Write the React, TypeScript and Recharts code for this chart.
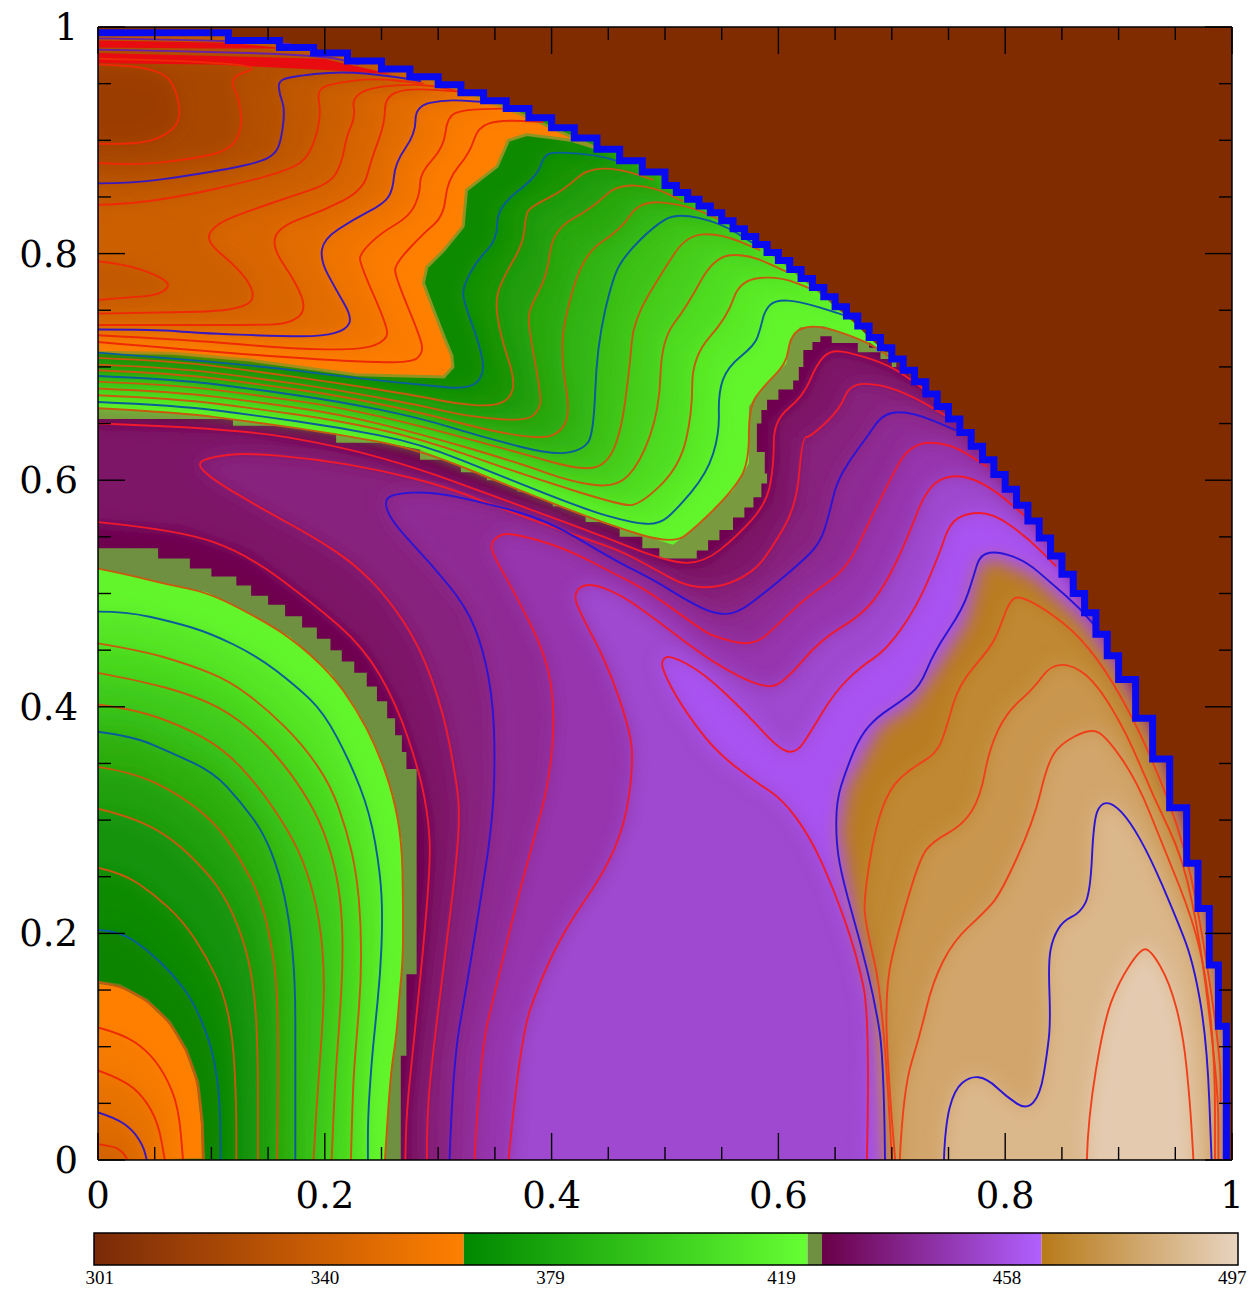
import { ScatterChart, Scatter, XAxis, YAxis } from "recharts";

type Pair = number[];

// rim of the disk, stepped as on the original grid
const rim: Pair[] = [[0,.995],[.115,.988],[.16,.982],[.19,.977],[.22,.97],[.25,.963],[.275,.956],[.3,.949],[.32,.942],[.34,.935],[.36,.928],[.38,.92],[.4,.911],[.42,.902],[.44,.892],[.46,.882],[.48,.872],[.5,.86],[.51,.854],[.52,.848],[.53,.842],[.54,.836],[.55,.829],[.56,.822],[.57,.815],[.58,.808],[.59,.801],[.6,.794],[.61,.786],[.62,.778],[.63,.77],[.64,.762],[.65,.753],[.66,.745],[.67,.736],[.68,.726],[.69,.717],[.7,.707],[.71,.697],[.72,.687],[.73,.676],[.74,.665],[.75,.654],[.76,.642],[.77,.63],[.78,.618],[.79,.605],[.8,.592],[.81,.578],[.82,.564],[.83,.549],[.84,.533],[.85,.517],[.86,.5],[.87,.483],[.88,.464],[.89,.445],[.9,.424],[.915,.39],[.93,.354],[.945,.311],[.96,.262],[.97,.222],[.98,.172],[.988,.118],[.995,0]];

// top left: orange bands
const t1: Pair[] = [[0,.897],[.037,.896],[.061,.905],[.073,.918],[.07,.941],[.061,.958],[.037,.965],[0,.967]];
const t2: Pair[] = [[0,.88],[.031,.878],[.081,.883],[.116,.891],[.127,.909],[.125,.936],[.115,.956],[.146,.965],[.081,.97],[0,.972]];
const t3: Pair[] = [[0,.862],[.031,.862],[.081,.869],[.116,.875],[.143,.881],[.155,.887],[.161,.897],[.165,.927],[.16,.941],[.159,.952],[.169,.956],[.213,.961],[.257,.957],[.285,.952]];
const t4: Pair[] = [[0,.843],[.031,.844],[.081,.852],[.125,.862],[.169,.874],[.187,.886],[.197,.921],[.193,.944],[.205,.95],[.243,.955],[.287,.95]];
const oval: Pair[] = [[0,.793],[.022,.791],[.052,.781],[.065,.772],[.052,.763],[.022,.761],[0,.759]];
const t5: Pair[] = [[0,.747],[.052,.748],[.102,.749],[.125,.752],[.138,.759],[.134,.774],[.119,.791],[.094,.812],[.105,.827],[.134,.838],[.169,.85],[.205,.862],[.215,.88],[.219,.903],[.227,.921],[.224,.937],[.24,.947],[.287,.95],[.319,.943]];
const t6: Pair[] = [[0,.737],[.081,.737],[.14,.737],[.169,.738],[.184,.75],[.175,.774],[.153,.806],[.16,.824],[.199,.838],[.234,.856],[.241,.883],[.253,.915],[.253,.938],[.272,.946],[.319,.943]];
const t7: Pair[] = [[0,.733],[.052,.733],[.087,.73],[.16,.727],[.199,.727],[.219,.733],[.224,.744],[.21,.768],[.196,.794],[.199,.813],[.225,.83],[.252,.844],[.26,.856],[.262,.88],[.28,.906],[.28,.93],[.305,.936],[.337,.934]];
const t8: Pair[] = [[0,.728],[.081,.724],[.169,.716],[.234,.715],[.255,.724],[.255,.736],[.231,.791],[.231,.8],[.249,.818],[.275,.833],[.284,.853],[.284,.871],[.305,.894],[.308,.921],[.322,.927],[.357,.928]];
const t9: Pair[] = [[0,.722],[.081,.715],[.199,.706],[.275,.703],[.287,.712],[.284,.727],[.262,.78],[.262,.791],[.287,.818],[.305,.833],[.308,.865],[.328,.889],[.335,.912],[.355,.918],[.393,.916]];
const t10: Pair[] = [[0,.713],[.066,.712],[.134,.706],[.228,.693],[.305,.691],[.313,.7],[.312,.71],[.305,.727],[.296,.75],[.287,.774],[.29,.788],[.305,.803],[.322,.824],[.325,.856],[.352,.877],[.362,.9],[.378,.905],[.417,.9],[.44,.893]];

// top: green bands
const g1: Pair[] = [[0,.7126],[.125,.703],[.228,.69],[.287,.684],[.328,.68],[.341,.694],[.337,.718],[.322,.759],[.322,.771],[.334,.794],[.352,.812],[.352,.841],[.387,.868],[.393,.886],[.402,.89],[.44,.887],[.46,.881]];
const g2: Pair[] = [[0,.708],[.07,.705],[.14,.696],[.21,.686],[.284,.674],[.313,.668],[.346,.665],[.363,.671],[.368,.688],[.355,.727],[.35,.759],[.358,.78],[.375,.809],[.377,.833],[.381,.841],[.411,.856],[.431,.875],[.46,.875],[.49,.865]];
const g3: Pair[] = [[0,.702],[.07,.699],[.14,.69],[.21,.68],[.284,.666],[.328,.656],[.378,.652],[.389,.662],[.391,.674],[.379,.738],[.381,.753],[.396,.78],[.401,.821],[.437,.841],[.457,.861],[.49,.859],[.516,.846]];
const g4: Pair[] = [[0,.697],[.07,.694],[.14,.685],[.21,.675],[.284,.66],[.343,.644],[.393,.636],[.41,.644],[.416,.662],[.409,.703],[.41,.738],[.428,.8],[.461,.821],[.478,.847],[.519,.843],[.548,.83]];
const g5: Pair[] = [[0,.692],[.07,.689],[.14,.68],[.21,.67],[.284,.655],[.343,.637],[.402,.622],[.428,.627],[.437,.641],[.44,.718],[.454,.78],[.466,.8],[.49,.824],[.51,.836],[.549,.827],[.578,.809]];
const g6: Pair[] = [[0,.687],[.07,.684],[.14,.675],[.21,.665],[.284,.648],[.372,.624],[.425,.609],[.448,.613],[.461,.641],[.469,.7],[.472,.741],[.499,.786],[.519,.816],[.548,.818],[.584,.803]];
const g7: Pair[] = [[0,.681],[.07,.678],[.14,.669],[.21,.659],[.284,.641],[.372,.615],[.416,.599],[.457,.593],[.478,.615],[.495,.662],[.497,.724],[.519,.753],[.543,.797],[.572,.8],[.607,.784]];
const g8: Pair[] = [[0,.675],[.07,.672],[.14,.663],[.21,.653],[.284,.637],[.372,.606],[.46,.578],[.478,.578],[.513,.612],[.524,.659],[.524,.709],[.555,.744],[.566,.777],[.601,.78],[.631,.768]];
const g9: Pair[] = [[0,.669],[.07,.666],[.14,.657],[.21,.647],[.284,.6325],[.357,.603],[.43,.574],[.472,.562],[.495,.561],[.51,.574],[.537,.606],[.548,.641],[.547,.677],[.555,.7],[.579,.719],[.584,.733],[.588,.75],[.597,.759],[.619,.758],[.666,.743]];
const g10: Pair[] = [[0,.6635],[.07,.66],[.14,.651],[.21,.641],[.284,.627],[.372,.591],[.446,.562],[.507,.543],[.528,.559],[.56,.591],[.574,.615],[.574,.665],[.587,.683],[.607,.703],[.61,.724],[.619,.735],[.64,.736],[.681,.721],[.702,.706]];
const topStair: Pair[] = [[0,.654],[.119,.648],[.21,.633],[.284,.618],[.32,.607],[.343,.6],[.37,.59],[.401,.577],[.43,.563],[.46,.55],[.48,.54],[.495,.531],[.528,.531],[.528,.538],[.538,.547],[.548,.556],[.56,.567],[.57,.576],[.578,.585],[.585,.597],[.59,.606],[.588,.625],[.581,.65],[.585,.662],[.59,.671],[.6,.68],[.613,.688],[.618,.7],[.622,.715],[.63,.722],[.637,.727],[.647,.721],[.67,.713],[.704,.7]];

// lower left: rings round the origin
const ringStair: Pair[] = [[0,.54],[.053,.531],[.081,.522],[.1,.515],[.122,.507],[.135,.498],[.15,.49],[.165,.48],[.18,.47],[.193,.46],[.205,.45],[.215,.44],[.226,.43],[.237,.418],[.246,.405],[.255,.39],[.262,.375],[.268,.36],[.272,.345],[.281,.312],[.281,.164],[.272,.164],[.272,.092],[.267,.092],[.267,0]];
const r1: Pair[] = [[0,.522],[.025,.517],[.061,.508],[.096,.501],[.131,.484],[.169,.462],[.205,.43],[.228,.398],[.246,.363],[.26,.324],[.268,.281],[.269,.228],[.269,.179],[.266,.147],[.263,.108],[.258,.076],[.253,0]];
const r2: Pair[] = [[0,.484],[.025,.484],[.066,.475],[.099,.465],[.14,.445],[.175,.418],[.199,.395],[.222,.352],[.24,.306],[.249,.253],[.251,.214],[.249,.164],[.244,.115],[.241,.083],[.238,.037],[.238,0]];
const r3: Pair[] = [[0,.456],[.037,.45],[.081,.437],[.116,.423],[.149,.398],[.181,.366],[.205,.331],[.219,.292],[.228,.253],[.232,.207],[.232,.157],[.228,.108],[.225,.069],[.223,0]];
const r4: Pair[] = [[0,.43],[.037,.423],[.081,.411],[.116,.395],[.149,.367],[.175,.335],[.196,.299],[.209,.26],[.215,.221],[.216,.175],[.213,.122],[.209,.069],[.206,0]];
const r5: Pair[] = [[0,.402],[.031,.398],[.072,.384],[.111,.363],[.143,.328],[.169,.289],[.184,.257],[.196,.211],[.2,.157],[.197,.104],[.193,.051],[.19,0]];
const r6: Pair[] = [[0,.378],[.031,.374],[.066,.359],[.102,.342],[.125,.317],[.146,.289],[.16,.253],[.169,.211],[.174,.157],[.174,.086],[.174,0]];
const r7: Pair[] = [[0,.347],[.031,.342],[.069,.324],[.102,.299],[.125,.267],[.143,.232],[.152,.196],[.158,.154],[.159,.086],[.158,0]];
const r8: Pair[] = [[0,.31],[.025,.304],[.058,.289],[.087,.264],[.111,.235],[.128,.196],[.137,.157],[.141,.104],[.141,0]];
const r9: Pair[] = [[0,.258],[.022,.253],[.049,.235],[.075,.211],[.096,.179],[.111,.147],[.119,.108],[.122,.051],[.122,0]];
const r10: Pair[] = [[0,.203],[.019,.202],[.043,.186],[.066,.164],[.084,.14],[.099,.104],[.106,.069],[.108,.033],[.108,0]];
const r11: Pair[] = [[0,.157],[.019,.154],[.043,.141],[.063,.122],[.078,.097],[.088,.069],[.092,.033],[.093,0]];
const r12: Pair[] = [[0,.117],[.022,.111],[.043,.097],[.059,.076],[.071,.047],[.075,0]];
const r13: Pair[] = [[0,.079],[.022,.071],[.04,.056],[.053,.033],[.059,0]];
const r14: Pair[] = [[0,.042],[.016,.037],[.031,.026],[.04,.012],[.043,0]];
const r15: Pair[] = [[0,.014],[.014,.012],[.022,.007],[.026,0]];

// middle: purple bands
const pa: Pair[] = [[0,.65],[.119,.646],[.213,.63],[.284,.61],[.343,.588],[.431,.556],[.504,.527],[.534,.527],[.563,.55],[.59,.58],[.596,.615],[.596,.653],[.622,.674],[.634,.703],[.646,.715],[.666,.712],[.696,.702],[.719,.688],[.743,.668],[.78,.625]];
const p1: Pair[] = [[0,.563],[.072,.556],[.131,.535],[.19,.491],[.234,.453],[.263,.403],[.284,.341],[.292,.297],[.293,.262],[.287,.188],[.278,.1],[.272,.041],[.271,0]];
const p2: Pair[] = [[.29,0],[.29,.041],[.296,.1],[.307,.188],[.316,.262],[.319,.306],[.316,.335],[.305,.394],[.284,.453],[.255,.497],[.225,.527],[.19,.55],[.146,.574],[.102,.6],[.086,.615],[.102,.621],[.131,.624],[.19,.619],[.249,.609],[.308,.594],[.366,.571],[.425,.55],[.46,.538],[.49,.522],[.519,.506],[.549,.505],[.578,.519],[.593,.538],[.616,.577],[.621,.638],[.628,.638],[.654,.662],[.663,.685],[.689,.685],[.719,.674],[.754,.653]];
const p3: Pair[] = [[.31,0],[.313,.085],[.325,.153],[.337,.227],[.346,.285],[.35,.335],[.349,.4],[.34,.45],[.325,.488],[.293,.527],[.26,.562],[.252,.581],[.26,.588],[.293,.59],[.337,.581],[.396,.565],[.454,.53],[.49,.512],[.519,.494],[.543,.482],[.563,.482],[.587,.5],[.616,.524],[.637,.544],[.645,.571],[.651,.597],[.663,.618],[.678,.638],[.693,.66],[.719,.66],[.757,.644]];
const p4: Pair[] = [[.332,0],[.337,.094],[.351,.153],[.369,.227],[.384,.282],[.398,.335],[.403,.394],[.396,.444],[.366,.503],[.349,.533],[.346,.544],[.354,.552],[.366,.553],[.41,.541],[.46,.515],[.484,.503],[.531,.469],[.543,.462],[.578,.453],[.601,.474],[.625,.497],[.66,.521],[.678,.559],[.695,.594],[.716,.633],[.751,.633],[.784,.612]];
const p5: Pair[] = [[.362,0],[.372,.106],[.39,.159],[.413,.206],[.446,.253],[.465,.297],[.472,.35],[.469,.38],[.449,.438],[.425,.483],[.419,.5],[.431,.51],[.46,.5],[.496,.474],[.543,.438],[.59,.415],[.607,.424],[.637,.459],[.675,.482],[.695,.509],[.713,.547],[.731,.594],[.754,.606],[.784,.597],[.825,.562]];
const p6: Pair[] = [[.678,0],[.681,.124],[.669,.182],[.648,.241],[.628,.285],[.604,.318],[.578,.335],[.543,.362],[.513,.403],[.498,.432],[.497,.441],[.504,.446],[.534,.43],[.572,.394],[.601,.362],[.616,.359],[.628,.377],[.649,.412],[.672,.435],[.695,.45],[.722,.488],[.742,.535],[.751,.562],[.766,.571],[.789,.571],[.819,.55],[.845,.524]];

// lower right: tan bands
const tanBlue: Pair[] = [[.694,0],[.693,.09],[.685,.14],[.672,.193],[.657,.246],[.651,.278],[.651,.317],[.66,.345],[.672,.374],[.687,.391],[.707,.404],[.725,.418],[.737,.448],[.763,.487],[.772,.515],[.778,.535],[.795,.537],[.819,.528],[.842,.508],[.866,.487],[.887,.462]];
const tanEdge: Pair[] = [[.698,0],[.693,.09],[.687,.14],[.674,.193],[.662,.242],[.654,.289],[.66,.328],[.675,.356],[.69,.384],[.716,.4],[.737,.43],[.766,.476],[.778,.526],[.79,.531],[.825,.515],[.866,.476],[.895,.434],[.931,.37],[.96,.271],[.972,.221],[.984,.164],[.992,.115],[.992,0]];
const tan1: Pair[] = [[.7,0],[.693,.14],[.676,.211],[.676,.235],[.685,.292],[.698,.328],[.716,.345],[.74,.359],[.748,.381],[.759,.42],[.787,.452],[.795,.469],[.804,.494],[.813,.498],[.837,.485],[.866,.462],[.895,.423],[.928,.359],[.96,.274],[.978,.175],[.99,.087],[.99,.051]];
const tan2: Pair[] = [[.703,0],[.697,.069],[.694,.154],[.707,.207],[.725,.267],[.736,.281],[.763,.296],[.778,.32],[.786,.363],[.801,.395],[.825,.416],[.84,.437],[.86,.437],[.881,.42],[.907,.377],[.931,.32],[.957,.266],[.972,.192],[.981,.121],[.988,.054],[.988,0]];
const tan3: Pair[] = [[.707,0],[.71,.062],[.725,.111],[.736,.157],[.754,.193],[.781,.218],[.796,.235],[.825,.299],[.837,.349],[.848,.367],[.875,.381],[.889,.374],[.916,.335],[.939,.278],[.966,.211],[.978,.157],[.985,.086],[.985,0]];
const tan4: Pair[] = [[.746,0],[.747,.03],[.755,.062],[.769,.074],[.784,.072],[.801,.056],[.819,.044],[.831,.058],[.837,.094],[.84,.122],[.838,.175],[.842,.196],[.851,.211],[.866,.218],[.875,.235],[.878,.299],[.884,.315],[.895,.315],[.91,.299],[.928,.267],[.949,.218],[.966,.175],[.978,.104],[.982,0]];
const tan5: Pair[] = [[.872,0],[.873,.037],[.887,.122],[.9,.157],[.919,.186],[.928,.186],[.945,.157],[.957,.111],[.963,.051],[.966,0]];

// thin strips hugging the rim at the top
const topStrip1: Pair[] = [[0,.988],[.115,.986],[.166,.981],[.1,.981],[0,.982]];
const topStrip2: Pair[] = [[0,.977],[.199,.972],[.26,.958],[.2,.962],[.1,.967],[0,.968]];
const topLine1: Pair[] = [[0,.99],[.115,.988],[.17,.985]];
const topLine2: Pair[] = [[0,.98],[.066,.979],[.199,.975],[.23,.967]];
const rightSliver: Pair[] = [[.996,0],[1,0],[1,.115],[.996,.115]];
const square: Pair[] = [[0,0],[1,0],[1,1],[0,1]];

const axisTicks = [0, .05, .1, .15, .2, .25, .3, .35, .4, .45, .5, .55, .6, .65, .7, .75, .8, .85, .9, .95, 1];
const labelTicks = [0, .2, .4, .6, .8, 1];

const barTicks = [301, 340, 379, 419, 458, 497];
const barFrom = [300, 364, 423.5, 426, 464];
const barTo = [364, 423.5, 426, 464, 498];
const barStart = ["#7a2a08", "#008800", "#6f9040", "#6a0048", "#b87a18"];
const barEnd = ["#ff8000", "#66ff33", "#6f9040", "#b060ff", "#e8d4c0"];

const RED = "#f01a2c";
const RED_GREEN = "#c8590f";
const RED_ORANGE = "#ee2a06";
const RED_TAN = "#f0401a";
const BLUE = "#2a14d8";
const BLUE_GREEN = "#0a5c9a";
const BLUE_ORANGE = "#3a18c0";

const last = (c: Pair[]) => c[c.length - 1];
const upRim = (c: Pair[]) => [...c, ...rim.filter(p => p[0] < last(c)[0]).reverse()];
const downRim = (c: Pair[]) => [...c, ...rim.filter(p => p[0] > last(c)[0])];
const toOrigin = (c: Pair[]) => [...c, [0, 0]];
// soft fills run past the plot edge so the blur does not fade there; the clip cuts them off
const pastEdge = (c: Pair[]) => c.map(([x, y]) => [x === 0 ? -.03 : x, y === 0 ? -.03 : y]);

const purpleBase: Pair[] = [...p1, [.995, 0], ...rim.filter(p => p[0] > last(pa)[0]).reverse(), ...[...pa].reverse()];
const outside: Pair[] = [...rim, [1, 0], [1, 1], [0, 1]];

interface Fill { pts: Pair[]; color: string; soft?: boolean; step?: boolean; edge?: string }

const fills: Fill[] = [
  { pts: square, color: "#802c00" },
  { pts: rim.concat([[0, 0]]), color: "#6e004e" },
  { pts: purpleBase, color: "#7e1268", soft: true },
  { pts: downRim(p2), color: "#87207e", soft: true },
  { pts: downRim(p3), color: "#8f2b94", soft: true },
  { pts: downRim(p4), color: "#9636ae", soft: true },
  { pts: downRim(p5), color: "#9e48cf", soft: true },
  { pts: downRim(p6), color: "#a952f2", soft: true },
  { pts: tanEdge, color: "#b97c20", soft: true },
  { pts: tan1, color: "#c08832", soft: true },
  { pts: tan2, color: "#c99650", soft: true },
  { pts: tan3, color: "#d2a56c", soft: true },
  { pts: tan4, color: "#dbb78c", soft: true },
  { pts: tan5, color: "#e4cbb0", soft: true },
  { pts: upRim(topStair), color: "#7a9a40", step: true },
  { pts: upRim(g10), color: "#62f52c" },
  { pts: upRim(g9), color: "#5aeb28", soft: true },
  { pts: upRim(g8), color: "#50dd22", soft: true },
  { pts: upRim(g7), color: "#46cf1c", soft: true },
  { pts: upRim(g6), color: "#3cc217", soft: true },
  { pts: upRim(g5), color: "#33b512", soft: true },
  { pts: upRim(g4), color: "#2aa90d", soft: true },
  { pts: upRim(g3), color: "#209d08", soft: true },
  { pts: upRim(g2), color: "#159204", soft: true },
  { pts: upRim(g1), color: "#0a8a00", soft: true },
  { pts: upRim(t10), color: "#ff8000", edge: "#8f9422" },
  { pts: upRim(t9), color: "#fa7c00", soft: true },
  { pts: upRim(t8), color: "#f07400", soft: true },
  { pts: upRim(t7), color: "#e26c00", soft: true },
  { pts: upRim(t6), color: "#d76500", soft: true },
  { pts: upRim(t5), color: "#cc5f00", soft: true },
  { pts: oval, color: "#c25900", soft: true },
  { pts: upRim(t4), color: "#c05800", soft: true },
  { pts: upRim(t3), color: "#b44f00", soft: true },
  { pts: upRim(t2), color: "#a84600", soft: true },
  { pts: upRim(t1), color: "#9c3e00", soft: true },
  { pts: topStrip1, color: "#e80c10" },
  { pts: topStrip2, color: "#e80c10" },
  { pts: toOrigin(ringStair), color: "#6f9040", step: true },
  { pts: toOrigin(r1), color: "#62f52c" },
  { pts: toOrigin(r2), color: "#56e626", soft: true },
  { pts: toOrigin(r3), color: "#4ad81f", soft: true },
  { pts: toOrigin(r4), color: "#40cb1a", soft: true },
  { pts: toOrigin(r5), color: "#36bd15", soft: true },
  { pts: toOrigin(r6), color: "#2dae10", soft: true },
  { pts: toOrigin(r7), color: "#22a00b", soft: true },
  { pts: toOrigin(r8), color: "#189307", soft: true },
  { pts: toOrigin(r9), color: "#0e8a03", soft: true },
  { pts: toOrigin(r10), color: "#078400", soft: true },
  { pts: toOrigin(r11), color: "#ff8000", edge: "#6f7a14" },
  { pts: toOrigin(r12), color: "#f57a00", soft: true },
  { pts: toOrigin(r13), color: "#e87200", soft: true },
  { pts: toOrigin(r14), color: "#dd6a00", soft: true },
  { pts: toOrigin(r15), color: "#d26200", soft: true },
  { pts: rightSliver, color: "#8a3ad0" },
  { pts: outside, color: "#802c00", step: true },
];

const lines: [Pair[], string][] = [
  [pa, RED], [p1, RED], [p2, RED], [p3, BLUE], [p4, RED], [p5, RED], [p6, RED],
  [tanBlue, BLUE], [tan1, RED_TAN], [tan2, RED_TAN], [tan3, RED_TAN], [tan4, BLUE], [tan5, RED_TAN],
  [g1, BLUE_GREEN], [g2, RED_GREEN], [g3, RED_GREEN], [g4, RED_GREEN], [g5, BLUE_GREEN], [g6, RED_GREEN], [g7, RED_GREEN], [g8, RED_GREEN], [g9, BLUE_GREEN], [g10, RED_GREEN],
  [t1, RED_ORANGE], [t2, RED_ORANGE], [t3, BLUE_ORANGE], [t4, RED_ORANGE], [oval, RED_ORANGE], [t5, RED_ORANGE], [t6, RED_ORANGE], [t7, BLUE_ORANGE], [t8, RED_ORANGE], [t9, RED_ORANGE],
  [topLine1, "#6a20a8"], [topLine2, "#6a20a8"],
  [r1, RED_GREEN], [r2, BLUE_GREEN], [r3, RED_GREEN], [r4, RED_GREEN], [r5, RED_GREEN], [r6, BLUE_GREEN], [r7, RED_GREEN], [r8, RED_GREEN], [r9, RED_GREEN], [r10, BLUE_GREEN], [r11, RED_GREEN],
  [r12, RED_ORANGE], [r13, RED_ORANGE], [r14, BLUE_ORANGE], [r15, RED_ORANGE],
];

type Pt = { x: number; y: number };

const toData = (c: Pair[]) => c.map(([x, y]) => ({ x, y }));
const noDot = () => <g />;

const straight = (p: Pt[]) => "M" + p.map(q => `${q.x} ${q.y}`).join("L") + "Z";
const stepped = (p: Pt[]) => `M${p[0].x} ${p[0].y}` + p.slice(1).map(q => `H${q.x}V${q.y}`).join("") + "Z";
// rounds the corners by running through the midpoints
const smooth = (p: Pt[]) => {
  let d = `M${p[0].x} ${p[0].y}`;
  for (let i = 1; i < p.length - 1; i++) {
    const mx = (p[i].x + p[i + 1].x) / 2;
    const my = (p[i].y + p[i + 1].y) / 2;
    d += `Q${p[i].x} ${p[i].y} ${mx} ${my}`;
  }
  const e = p[p.length - 1];
  return d + `L${e.x} ${e.y}`;
};

function tickMark(side: string, labelled: boolean) {
  return (props: any) => {
    const { x, y, payload } = props;
    const v: number = payload.value;
    const major = labelTicks.some(t => Math.abs(t - v) < 1e-6);
    const len = major ? 27 : 13;
    const end = {
      bottom: [x, y - len],
      top: [x, y + len],
      left: [x + len, y],
      right: [x - len, y],
    }[side] as number[];
    return (
      <g>
        <line x1={x} y1={y} x2={end[0]} y2={end[1]} stroke="#000" strokeWidth={1.4} />
        {labelled && major && side === "bottom" && (
          <text x={x} y={y + 48} textAnchor="middle" fontFamily="DejaVu Serif" fontSize={37} fill="#000">{`${v}`}</text>
        )}
        {labelled && major && side === "left" && (
          <text x={x - 20} y={y + 13} textAnchor="end" fontFamily="DejaVu Serif" fontSize={37} fill="#000">{`${v}`}</text>
        )}
      </g>
    );
  };
}

const barTick = (props: any) => (
  <text x={props.x} y={props.y + 19} textAnchor="middle" fontFamily="Liberation Serif" fontSize={19} fill="#000">{props.payload.value}</text>
);

export default function App() {
  return (
    <div style={{ position: "absolute", left: 0, top: 0, width: 1253, height: 1290, background: "#fff" }}>
      <ScatterChart width={1253} height={1220} margin={{ top: 0, right: 0, bottom: 0, left: 0 }}>
        <defs>
          <filter id="soft" x="-20%" y="-20%" width="140%" height="140%">
            <feGaussianBlur stdDeviation="9" />
          </filter>
          <clipPath id="plotClip">
            <rect x={98} y={27} width={1134} height={1133} />
          </clipPath>
        </defs>
        {fills.map((f, i) => (
          <Scatter
            key={`fill${i}`}
            data={toData(f.soft ? pastEdge(f.pts) : f.pts)}
            isAnimationActive={false}
            legendType="none"
            shape={noDot}
            line={(p: any) => (
              <g clipPath="url(#plotClip)">
                <path
                  d={f.step ? stepped(p.points) : straight(p.points)}
                  fill={f.color}
                  stroke={f.edge ?? "none"}
                  strokeWidth={f.edge ? 3 : 0}
                  filter={f.soft ? "url(#soft)" : undefined}
                />
              </g>
            )}
          />
        ))}
        {lines.map(([c, color], i) => (
          <Scatter
            key={`line${i}`}
            data={toData(c)}
            isAnimationActive={false}
            legendType="none"
            shape={noDot}
            line={(p: any) => <path d={smooth(p.points)} fill="none" stroke={color} strokeWidth={1.9} />}
          />
        ))}
        <Scatter
          data={toData(rim)}
          isAnimationActive={false}
          legendType="none"
          shape={noDot}
          line={(p: any) => (
            <path d={stepped(p.points).replace("Z", "")} fill="none" stroke="#0a0af0" strokeWidth={7} />
          )}
        />
        <XAxis dataKey="x" type="number" domain={[0, 1]} allowDataOverflow ticks={axisTicks} interval={0} height={60} tickSize={0} tickMargin={0} tickLine={false} axisLine={{ stroke: "#000", strokeWidth: 1.5 }} tick={tickMark("bottom", true)} zIndex={900} />
        <YAxis dataKey="y" type="number" domain={[0, 1]} allowDataOverflow ticks={axisTicks} interval={0} width={98} tickSize={0} tickMargin={0} tickLine={false} axisLine={{ stroke: "#000", strokeWidth: 1.5 }} tick={tickMark("left", true)} zIndex={900} />
        <XAxis xAxisId="top" orientation="top" dataKey="x" type="number" domain={[0, 1]} allowDataOverflow ticks={axisTicks} interval={0} height={27} tickSize={0} tickMargin={0} tickLine={false} axisLine={{ stroke: "#000", strokeWidth: 1.5 }} tick={tickMark("top", false)} zIndex={900} />
        <YAxis yAxisId="right" orientation="right" dataKey="y" type="number" domain={[0, 1]} allowDataOverflow ticks={axisTicks} interval={0} width={21} tickSize={0} tickMargin={0} tickLine={false} axisLine={{ stroke: "#000", strokeWidth: 1.5 }} tick={tickMark("right", false)} zIndex={900} />
      </ScatterChart>

      <div style={{ position: "absolute", left: 0, top: 1220 }}>
        <ScatterChart width={1253} height={70} margin={{ top: 13, right: 15, bottom: 0, left: 94 }}>
          <defs>
            {barFrom.map((_, i) => (
              <linearGradient key={i} id={`seg${i}`} x1="0" y1="0" x2="1" y2="0">
                <stop offset="0" stopColor={barStart[i]} />
                <stop offset="1" stopColor={barEnd[i]} />
              </linearGradient>
            ))}
          </defs>
          {barFrom.map((from, i) => (
            <Scatter
              key={i}
              data={toData([[from, 0], [barTo[i], 0], [barTo[i], 1], [from, 1]])}
              isAnimationActive={false}
              legendType="none"
              shape={noDot}
              line={(p: any) => <path d={straight(p.points)} fill={`url(#seg${i})`} />}
            />
          ))}
          <Scatter
            data={toData([[300, 0], [498, 0], [498, 1], [300, 1]])}
            isAnimationActive={false}
            legendType="none"
            shape={noDot}
            line={(p: any) => <path d={straight(p.points)} fill="none" stroke="#000" strokeWidth={1.5} />}
          />
          <XAxis dataKey="x" type="number" domain={[300, 498]} ticks={barTicks} interval={0} height={25} tickSize={0} tickMargin={0} tickLine={false} axisLine={false} tick={barTick} />
          <YAxis dataKey="y" type="number" domain={[0, 1]} hide />
        </ScatterChart>
      </div>
    </div>
  );
}
